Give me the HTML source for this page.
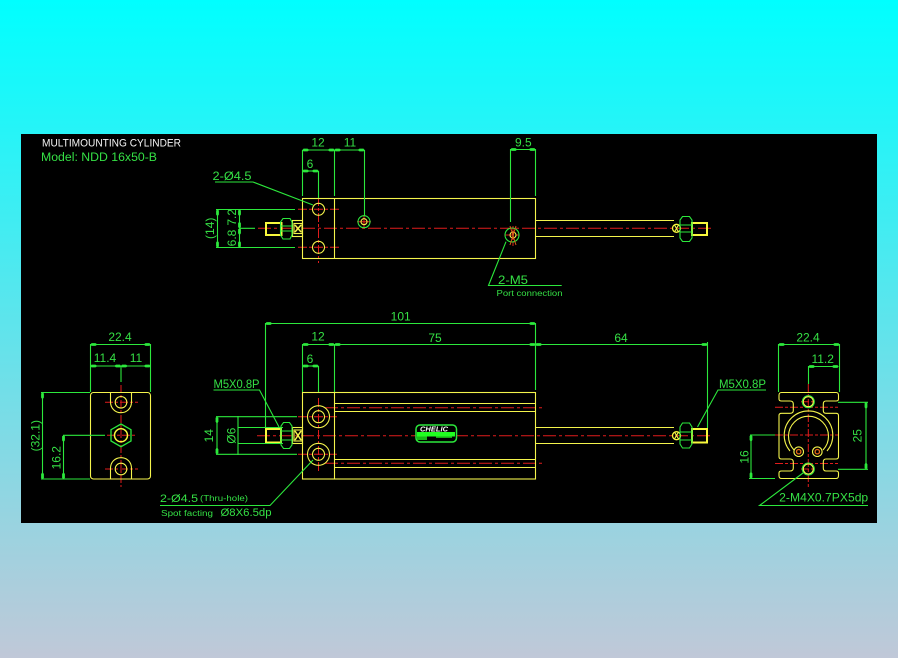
<!DOCTYPE html>
<html lang="en">
<head>
<meta charset="utf-8">
<title>Multimounting Cylinder</title>
<style>
html,body{margin:0;padding:0;width:898px;height:658px;overflow:hidden}
body{background:linear-gradient(180deg,#00ffff 0%,#c0c8d8 100%)}
svg{display:block;position:absolute;left:0;top:0}
text{font-family:"Liberation Sans",sans-serif;fill:#35e045;font-size:12px;text-anchor:middle;dominant-baseline:central}
.y{fill:none;stroke:#f4f44c;stroke-width:1.1}
.yt{fill:none;stroke:#f8f83c;stroke-width:2}
.g{fill:none;stroke:#2ce83c;stroke-width:1.1}
.r{fill:none;stroke:#e01c1c;stroke-width:1;stroke-dasharray:13 3 3 3}
.rs{fill:none;stroke:#e01c1c;stroke-width:1;stroke-dasharray:9 2 3 2}
.d{fill:none;stroke:#2ce83c;stroke-width:1.1;marker-start:url(#a);marker-end:url(#a)}
.s{font-size:8px}
</style>
</head>
<body>
<svg width="898" height="658" viewBox="0 0 898 658" xmlns="http://www.w3.org/2000/svg">
<defs>
<marker id="a" markerUnits="userSpaceOnUse" markerWidth="7" markerHeight="4" refX="7" refY="2" orient="auto-start-reverse">
<path d="M0 2L2 .6H6L7 2L6 3.400H2Z" fill="#2ce83c"/>
</marker>
</defs>
<rect x="21" y="134" width="856" height="389" fill="#000"/>

<!-- Title -->
<text x="111.500" y="143.700" style="fill:#f4f4f4;font-size:11px" textLength="139" lengthAdjust="spacingAndGlyphs">MULTIMOUNTING CYLINDER</text>
<text x="99" y="158" style="font-size:11.500px" textLength="116" lengthAdjust="spacingAndGlyphs">Model: NDD 16x50-B</text>

<!-- TOP VIEW: centerlines -->
<path class="r" d="M258 228.300H713"/>
<path class="rs" d="M318.500 197V263M298 209.300H340M298 247.300H340"/>
<path class="rs" d="M505 235H520M513 226V246"/>
<path class="rs" d="M357 221.700H371M364 215V229" style="stroke-dasharray:none"/>
<!-- TOP VIEW: body -->
<rect class="y" x="302.500" y="198.500" width="233" height="60"/>
<path class="y" d="M334.500 198.500V258.500"/>
<circle class="y" cx="318.500" cy="209.300" r="6"/>
<circle class="y" cx="318.500" cy="247.300" r="6"/>
<circle class="y" cx="364" cy="221.700" r="3"/>
<circle class="g" cx="364" cy="221.700" r="6"/>
<circle class="g" cx="512" cy="235" r="7"/>
<circle class="y" cx="513" cy="235" r="3"/>
<path d="M510 226L516 245M516 226L510 245" style="stroke:#d85a18;stroke-width:1;fill:none"/>
<path class="y" d="M535.500 220.500H674M535.500 236.500H674"/>
<!-- TOP left stub -->
<rect class="yt" x="266" y="223" width="15.500" height="12"/>
<rect class="y" x="292.500" y="220.500" width="10" height="16"/>
<rect class="y" x="294" y="223.500" width="8" height="10"/>
<path class="y" style="stroke-width:1.500" d="M295 225L301 232M301 225L295 232"/>
<path class="g" d="M283 218.500H290L292 222V235L290 239H283L280.500 235V222ZM280.500 226H292M280.500 231H292"/>
<!-- TOP right stub -->
<rect class="yt" x="692" y="223" width="15" height="12"/>
<ellipse class="yt" cx="676.500" cy="228.300" rx="4" ry="4" style="stroke-width:1.300"/>
<path class="y" d="M674.500 225L678.500 232M678.500 225L674.500 232"/>
<path class="g" d="M682.500 216.500H689.500L692 220V238L689.500 241.500H682.500L680 238V220ZM680 225H692M680 232H692"/>
<!-- TOP dims -->
<path class="g" d="M302.500 150V196M334.500 150V196M364.500 150V216M318.500 171V198"/>
<path class="d" d="M302.500 150H334.500"/><path class="d" d="M334.500 150H364.500"/>
<path class="d" d="M302.500 171H318.500"/>
<text x="318" y="142.700">12</text><text x="350" y="142.700">11</text><text x="310" y="164">6</text>
<text x="232" y="176" textLength="39" lengthAdjust="spacingAndGlyphs">2-Ø4.5</text>
<path class="g" d="M215 182H253L313 205"/>
<path class="g" d="M216 209.500H295M216 247.500H295M240 228.300H255"/>
<path class="d" d="M217.500 209.500V247.500"/>
<path class="d" d="M239.500 209.500V228.300"/><path class="d" d="M239.500 228.300V247.500"/>
<text transform="translate(210 228.300) rotate(-90)">(14)</text>
<text transform="translate(232 217.300) rotate(-90)">7.2</text>
<text transform="translate(232 238) rotate(-90)">6.8</text>
<path class="g" d="M510.500 149V222M535.500 149V196"/>
<path class="d" d="M510.500 149.500H535.500"/>
<text x="523.300" y="142.700">9.5</text>
<path class="g" d="M506 241.700L488.500 285.500H561.700"/>
<text x="513" y="280" textLength="30" lengthAdjust="spacingAndGlyphs">2-M5</text>
<text class="s" x="529.500" y="293.700" textLength="66" lengthAdjust="spacingAndGlyphs">Port connection</text>

<!-- FRONT VIEW centerlines -->
<path class="r" d="M257 435.700H713"/>
<path class="r" d="M325 407.700H544M325 463.300H544"/>
<path class="rs" d="M318.500 398V473M298 416.700H337M298 454.300H337"/>
<!-- FRONT body -->
<rect class="y" x="302.500" y="392.500" width="233" height="86.500"/>
<path class="y" d="M334.500 392.500V479M334.500 403.500H535.500M334.500 411.500H535.500M334.500 459.500H535.500M334.500 467.500H535.500"/>
<circle class="y" cx="318.500" cy="416.700" r="11"/>
<circle class="y" cx="318.500" cy="416.700" r="6"/>
<circle class="y" cx="318.500" cy="454.300" r="11"/>
<circle class="y" cx="318.500" cy="454.300" r="6"/>
<path class="y" d="M535.500 427.500H674M535.500 443.500H674"/>
<!-- FRONT left stub -->
<rect class="yt" x="266" y="429" width="15" height="13.500"/>
<rect class="y" x="292.500" y="427.500" width="10" height="16"/>
<rect class="y" x="294" y="430" width="8" height="11"/>
<path class="y" style="stroke-width:1.500" d="M295 431L301 440M301 431L295 440"/>
<path class="g" d="M283.500 422.500H289.500L292 426V445L289.500 448.500H283.500L281 445V426ZM281 431H292M281 440H292"/>
<!-- FRONT right stub -->
<rect class="yt" x="692" y="429" width="15" height="13.500"/>
<ellipse class="yt" cx="676.500" cy="435.700" rx="4" ry="4" style="stroke-width:1.300"/>
<path class="y" d="M674.500 432L678.500 439M678.500 432L674.500 439"/>
<path class="g" d="M682.500 423H689.500L692 427V444L689.500 448H682.500L680 444V427ZM680 432H692M680 440H692"/>
<!-- CHELIC logo -->
<rect x="416" y="425" width="40.500" height="17" rx="4" fill="#000" stroke="#2ce83c" stroke-width="1.500"/>
<rect x="417" y="432" width="38" height="4.500" fill="#20ff20"/>
<rect x="417" y="436.500" width="10" height="3.500" fill="#18b818"/>
<rect x="436" y="436.500" width="16" height="1.500" fill="#18a818"/>
<text x="434" y="429" style="fill:#fff;font-size:7.500px;font-style:italic;font-weight:bold" textLength="28" lengthAdjust="spacingAndGlyphs">CHELIC</text>
<!-- FRONT dims -->
<path class="g" d="M265.500 323V428M302.500 344V392M334.500 344V392M318.500 366V392M535.500 323V390M707.500 342V428"/>
<path class="d" d="M265.500 323.500H535.500"/>
<path class="d" d="M302.500 344.500H334.500"/><path class="d" d="M334.500 344.500H535.500"/><path class="d" d="M535.500 344.500H707.500"/>
<path class="d" d="M302.500 366H318.500"/>
<text x="400.700" y="316.700">101</text><text x="435" y="338">75</text><text x="318" y="336.700">12</text><text x="621" y="338">64</text><text x="310" y="359">6</text>
<text x="236.500" y="384" textLength="46" lengthAdjust="spacingAndGlyphs">M5X0.8P</text>
<path class="g" d="M213.500 390H259.500L279 427"/>
<text x="742.500" y="384" textLength="47" lengthAdjust="spacingAndGlyphs">M5X0.8P</text>
<path class="g" d="M766 390H718L697.500 427"/>
<path class="g" d="M216 416.700H297M216 454.300H297M238 427.500H283M238 443.500H283M238 416V455"/>
<path class="d" d="M217 416.700V454.300"/>
<text transform="translate(209 435.700) rotate(-90)">14</text>
<text transform="translate(231.700 435.700) rotate(-90)">Ø6</text>
<text x="179" y="499" style="font-size:11px" textLength="38" lengthAdjust="spacingAndGlyphs">2-Ø4.5</text>
<text class="s" x="224" y="498.500" textLength="48" lengthAdjust="spacingAndGlyphs">(Thru-hole)</text>
<path class="g" d="M160 505.500H270L313 460"/>
<text class="s" x="187" y="513.500" textLength="52" lengthAdjust="spacingAndGlyphs">Spot facting</text>
<text x="246" y="513" style="font-size:11px" textLength="51" lengthAdjust="spacingAndGlyphs">Ø8X6.5dp</text>

<!-- LEFT END VIEW -->
<path class="rs" d="M121 385V487M105 402.300H138M107 435.300H136M105 469H138" style="stroke-dasharray:8 2 3 2"/>
<rect class="y" x="90.500" y="392.500" width="60" height="86.500" rx="3"/>
<path class="y" d="M110.500 392.500V402C110.500 408 115 412.700 121 412.700S131.500 408 131.500 402V392.500"/>
<path class="y" d="M110.500 479V468.500C110.500 462 115 457.700 121 457.700S131.500 462 131.500 468.500V479"/>
<circle class="y" cx="121" cy="402.300" r="5.800"/>
<circle class="y" cx="121" cy="469" r="5.800"/>
<path class="g" d="M121 424L131 429.700V441L121 446.700L111 441V429.700Z" style="stroke-width:1.300"/>
<circle class="yt" cx="121" cy="435.300" r="6.500" style="stroke-width:1.500"/>
<path class="g" d="M90.500 344V392M150.500 344V392M121 366V382M41 392.500H90M41 479H90M63 435.300H105"/>
<path class="d" d="M90.500 344.500H150.500"/>
<path class="d" d="M90.500 366H121"/><path class="d" d="M121 366H150.500"/>
<path class="d" d="M42.500 392.500V479"/>
<path class="d" d="M63.500 435.300V479"/>
<text x="120" y="337">22.4</text><text x="105" y="358">11.4</text><text x="136" y="358">11</text>
<text transform="translate(35.700 435.700) rotate(-90)">(32.1)</text>
<text transform="translate(56.700 457.700) rotate(-90)">16.2</text>

<!-- RIGHT END VIEW -->
<path class="rs" d="M808.300 384V487M775 435H839M775 407.300H838M775 463.500H838M801 401.700H815M801 469H815" style="stroke-dasharray:8 2 3 2"/>
<path class="y" d="M781.500 392.500H836C838 392.500 838.500 393.500 838.500 395.500V399C838.500 400.500 837.500 401 836 401H826C824 401 823.300 402 823.300 404V410.500C823.300 412.500 824 413.300 826 413.300H836C837.500 413.300 838.500 414 838.500 415.500V456.500C838.500 458 837.500 459 836 459H826C824 459 823.300 460 823.300 462V468C823.300 470 824 471 826 471H836C837.500 471 838.500 471.500 838.500 473V475.500C838.500 477.500 838 478.500 836 478.500H781.500C779.500 478.500 779 477.500 779 475.500V473C779 471.500 780 471 781.500 471H790C792 471 793.300 470 793.300 468V462C793.300 460 792 459 790 459H781.500C780 459 779 458 779 456.500V415.500C779 414 780 413.300 781.500 413.300H790C792 413.300 793.300 412.500 793.300 410.500V404C793.300 402 792 401 790 401H781.500C780 401 779 400.500 779 399V395.500C779 393.500 779.500 392.500 781.500 392.500Z"/>
<path class="y" d="M790 451A24.300 24.300 0 1 1 827 451"/>
<path class="y" d="M794 450A20 20 0 1 1 823 450"/>
<circle class="g" cx="808.300" cy="401.700" r="6"/>
<circle class="y" cx="808.300" cy="401.700" r="5"/>
<circle class="g" cx="808.300" cy="469" r="6"/>
<circle class="y" cx="808.300" cy="469" r="5"/>
<circle cx="798.700" cy="451.700" r="2.200" fill="none" stroke="#e86a18" stroke-width="1.300"/>
<circle cx="817.300" cy="451.700" r="2.200" fill="none" stroke="#e86a18" stroke-width="1.300"/>
<circle class="y" cx="798.700" cy="451.700" r="4.800"/>
<circle class="y" cx="817.300" cy="451.700" r="4.800"/>
<path class="g" d="M778.500 344V392M839.500 344V392M808.500 366V384M838 402.300H868M838 469.300H868M750 435H775M749 478.500H775"/>
<path class="d" d="M778.500 344.500H839.500"/>
<path class="d" d="M808.500 366.500H838.500"/>
<path class="d" d="M866 402.300V469.300"/>
<path class="d" d="M751 435V478.500"/>
<text x="808" y="337.300">22.4</text><text x="822.700" y="359">11.2</text>
<text transform="translate(857.700 435.700) rotate(-90)">25</text>
<text transform="translate(744.700 457) rotate(-90)">16</text>
<text x="823.700" y="497.700" textLength="89" lengthAdjust="spacingAndGlyphs">2-M4X0.7PX5dp</text>
<path class="g" d="M868 505.500H759.500L803 473"/>
</svg>
</body>
</html>
